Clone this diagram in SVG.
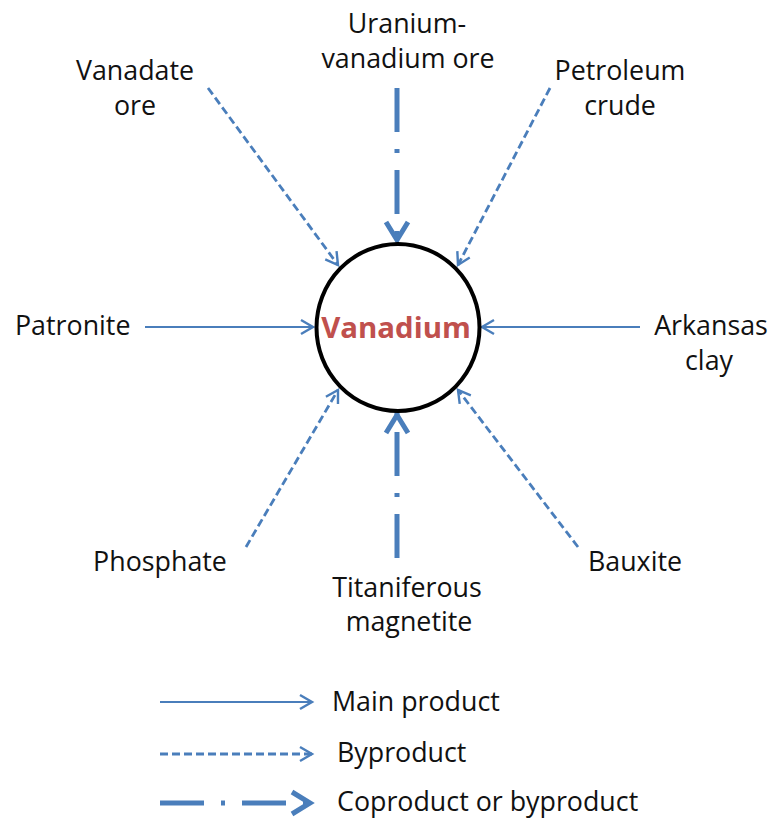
<svg xmlns="http://www.w3.org/2000/svg" width="771" height="819" viewBox="0 0 771 819">
  <style>
    .lbl { font-family: "Open Sans", "Liberation Sans", sans-serif; font-size: 26.8px; fill: #111; }
    .mid { text-anchor: middle; }
    .title { font-family: "Open Sans", "Liberation Sans", sans-serif; font-size: 29.4px; font-weight: bold; fill: #C0504D; text-anchor: middle; }
    .main { fill: none; stroke: #4A7EBB; stroke-width: 2.2; marker-end: url(#headThin); }
    .by { fill: none; stroke: #4A7EBB; stroke-width: 2.8; stroke-dasharray: 8 4; marker-end: url(#headThin); }
    .co { fill: none; stroke: #4A7EBB; stroke-width: 5; stroke-dasharray: 44 17 4 17; marker-end: url(#headThick); }
  </style>
  <defs>
    <marker id="headThin" markerUnits="userSpaceOnUse" viewBox="-16 -10 20 20" refX="0" refY="0" markerWidth="20" markerHeight="20" orient="auto" overflow="visible">
      <path d="M-12,-7 L0,0 L-12,7" fill="none" stroke="#4A7EBB" stroke-width="2.4"/>
    </marker>
    <marker id="headThick" markerUnits="userSpaceOnUse" viewBox="-28 -14 32 28" refX="0" refY="0" markerWidth="32" markerHeight="28" orient="auto" overflow="visible">
      <path d="M-21,-11 L-3,0 L-21,11" fill="none" stroke="#4A7EBB" stroke-width="5"/>
    </marker>
  </defs>

  <rect width="771" height="819" fill="#fff"/>

  <!-- connectors -->
  <g id="connectors">
    <path class="co" d="M397,88 L397,243"/>
    <path class="co" d="M397,558 L397,412"/>
    <path class="main" d="M145,327 L313,327"/>
    <path class="main" d="M640,327 L482,327"/>
    <path class="by" d="M208,88 L338,265"/>
    <path class="by" d="M550,88 L458,265"/>
    <path class="by" d="M246,547 L338,390"/>
    <path class="by" d="M578,547 L458,390"/>
  </g>

  <!-- central element -->
  <g id="vanadium">
    <ellipse cx="398" cy="327.5" rx="81.5" ry="83.5" fill="#fff" stroke="#000" stroke-width="4"/>
    <text class="title" x="396" y="338">Vanadium</text>
  </g>

  <g id="uranium-vanadium-ore">
    <text class="lbl mid" x="407" y="33">Uranium-</text>
    <text class="lbl mid" x="408" y="68">vanadium ore</text>
  </g>
  <g id="vanadate-ore">
    <text class="lbl mid" x="135" y="80">Vanadate</text>
    <text class="lbl mid" x="135" y="115">ore</text>
  </g>
  <g id="petroleum-crude">
    <text class="lbl mid" x="620" y="80">Petroleum</text>
    <text class="lbl mid" x="620" y="115">crude</text>
  </g>
  <g id="patronite">
    <text class="lbl" x="15" y="335">Patronite</text>
  </g>
  <g id="arkansas-clay">
    <text class="lbl mid" x="711" y="335">Arkansas</text>
    <text class="lbl mid" x="709" y="370">clay</text>
  </g>
  <g id="phosphate">
    <text class="lbl mid" x="160" y="571">Phosphate</text>
  </g>
  <g id="bauxite">
    <text class="lbl mid" x="635" y="571">Bauxite</text>
  </g>
  <g id="titaniferous-magnetite">
    <text class="lbl mid" x="407" y="597">Titaniferous</text>
    <text class="lbl mid" x="409" y="631">magnetite</text>
  </g>

  <!-- key -->
  <g id="legend">
    <path class="main" d="M160,702 L312,702"/>
    <text class="lbl" x="332" y="711">Main product</text>
    <path class="by" d="M160,754 L312,754"/>
    <text class="lbl" x="337" y="762">Byproduct</text>
    <path class="co" d="M160,803 L313,803"/>
    <text class="lbl" x="337" y="811">Coproduct or byproduct</text>
  </g>
</svg>
